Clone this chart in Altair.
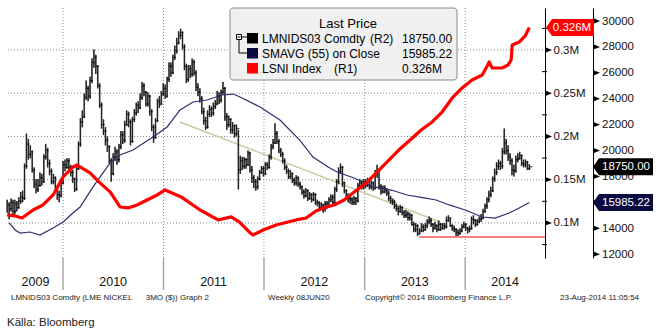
import altair as alt
import pandas as pd

# ---------------- data ----------------
WEEK_START = "2009-06-12"   # weekly bars, LME nickel 3M (R2)
CLOSE = [
    15800, 15500, 16000, 15300, 15900, 15600, 16100, 16400, 16300,
    18800, 20500, 19700, 19900, 18500, 17400, 17000, 17300, 17900, 17600,
    19500, 20000, 19000, 18400, 17600, 17900, 17000, 16600, 16500, 17500,
    18900, 18700, 19200, 18700, 18300, 17800, 17000, 18600, 20500, 22200,
    22600, 24100, 24800, 24200, 25400, 26800, 27200, 26500, 25000, 23500,
    22000, 21500, 20800, 20300, 19200, 18200, 19500, 19900, 19300, 20300,
    21200, 20800, 22000, 22800, 22200, 20700, 22400, 22900, 23500, 23300,
    24100, 25000, 24500, 23600, 24200, 23000, 21800, 21000, 22300, 23800,
    23600, 24400, 24800, 24200, 25500, 26500, 26000, 27200, 27700, 28300,
    28900, 29100, 28000, 26500, 25500, 26300, 25900, 26800, 26000, 24900,
    24500, 24000, 23000, 22300, 21800, 22800, 23200, 22900, 23400, 23600,
    24200, 23900, 24500, 24800, 22600, 22000, 22400, 21600, 21900, 21300,
    21700, 18500, 19200, 18800, 19300, 18900, 19800, 18500, 17900, 17600,
    17200, 17800,
    18300, 18600, 18200, 18900, 18700, 19500, 20300, 20600, 21300, 20700,
    20000, 19700, 19200, 18700, 18400, 18000, 18200, 17700, 17500, 17900,
    17400, 17200, 16800, 16500, 16900, 16300, 16600, 16200, 16600, 16000,
    15900, 15600, 15800, 15500, 15900, 15700, 16200, 16400, 16000, 17000,
    17600, 18400, 18700, 17500, 16900, 16500, 16300,
    16200, 16000, 16300, 16100, 17300, 17500, 17200, 17600, 17300, 17700,
    17200, 17500, 17100, 18200, 18400, 17200, 16800, 17100, 16900, 16700,
    16300, 16100, 16000, 15700, 15500, 15300, 15600, 15200, 15000, 15100,
    14800, 15000, 14300, 13900, 14200, 13600, 13800, 14100, 13900, 14200,
    14500, 14600, 14300, 14000, 14200, 13900, 14300, 14000, 14200, 14100,
    14600, 14800, 14200, 14000, 13900, 13700, 13600, 13800, 14100, 14300,
    14000, 13900, 14000, 14700, 14600, 14300, 14500, 14700, 14800, 15300,
    15700, 16200, 16600, 16900, 17800, 18300, 18800, 19000, 18800, 19900,
    20600,
    20000, 19500, 19200, 18500, 18400, 19300, 19400, 19600, 19000, 18900,
    19100, 18600, 18750,
]
HIGH = [
    16200, 16000, 16300, 16200, 16200, 16100, 16400, 16800, 16900,
    19000, 21300, 20900, 20400, 20000, 18700, 17800, 17800, 18300, 18200,
    19700, 20500, 20200, 19300, 18600, 18200, 18000, 17300, 16900, 17700,
    19200, 19300, 19400, 19400, 18900, 18500, 17900, 18800, 20700, 22500,
    23100, 24400, 25400, 25000, 25700, 27100, 27800, 27400, 26600, 25200,
    23700, 22400, 21800, 21100, 20400, 19400, 19800, 20300, 20100, 20500,
    21500, 21500, 22300, 23100, 23000, 22400, 22600, 23200, 23700, 23800,
    24400, 25300, 25200, 24600, 24500, 24300, 23200, 22000, 22500, 24000,
    24200, 24600, 25200, 25100, 25700, 26800, 26800, 27400, 28100, 28700,
    29200, 29400, 29200, 28200, 26700, 26600, 26600, 27100, 27000, 26200,
    25200, 24800, 24200, 23300, 22600, 23100, 23500, 23400, 23700, 23900,
    24600, 24500, 24700, 25300, 24900, 22900, 22700, 22500, 22200, 22000,
    22000, 21600, 19600, 19500, 19500, 19400, 20000, 19900, 18800, 18100,
    17800, 18000,
    18500, 18800, 18800, 19100, 19100, 19700, 20500, 20900, 22100, 21500,
    20900, 20200, 19900, 19400, 18900, 18600, 18500, 18300, 17900, 18100,
    18000, 17600, 17300, 17000, 17100, 17000, 16800, 16700, 16800, 16700,
    16200, 16100, 16000, 15900, 16100, 16100, 16400, 16600, 16600, 17200,
    17800, 18700, 19000, 18800, 17600, 17000, 16700,
    16500, 16400, 16500, 16400, 17500, 17800, 17700, 17800, 17800, 17900,
    17800, 17700, 17600, 18500, 18900, 18500, 17400, 17300, 17300, 17100,
    16900, 16500, 16300, 16200, 15900, 15700, 15800, 15700, 15400, 15400,
    15300, 15200, 15100, 14500, 14400, 14300, 14000, 14400, 14300, 14400,
    14700, 14900, 14800, 14400, 14500, 14300, 14600, 14400, 14400, 14400,
    14900, 15000, 14800, 14300, 14200, 14000, 13900, 14000, 14300, 14500,
    14400, 14100, 14200, 14900, 15000, 14700, 14700, 14900, 15100, 15500,
    15900, 16400, 16900, 17200, 18000, 18600, 19100, 19300, 19200, 20200,
    21700,
    20900, 20400, 19800, 19400, 18900, 19600, 19800, 19900, 19700, 19300,
    19300, 19200, 18950,
]
LOW = [
    15200, 14700, 15300, 15000, 15100, 15300, 15500, 15900, 16000,
    16200, 18600, 19300, 19400, 18300, 17100, 16700, 16800, 17200, 17300,
    17500, 19300, 18700, 18100, 17400, 17400, 16800, 16200, 16000, 16400,
    17400, 18400, 18600, 18400, 18000, 17500, 16800, 16900, 18500, 20300,
    21800, 22500, 23900, 23800, 24000, 25200, 26400, 25900, 24800, 23300,
    21700, 21200, 20400, 19900, 19000, 17600, 18100, 19200, 18900, 19100,
    20100, 20500, 20600, 21900, 21800, 20400, 20600, 22200, 22700, 22900,
    23200, 23900, 24200, 23400, 23400, 22700, 21500, 20600, 20900, 22200,
    23300, 23500, 24200, 24000, 24100, 25300, 25700, 25900, 27000, 27500,
    28200, 28600, 27800, 26200, 25200, 25300, 25600, 25700, 25800, 24600,
    24200, 23700, 22800, 22000, 21600, 21700, 22600, 22600, 22700, 23200,
    23500, 23600, 23700, 24300, 22300, 21600, 21800, 21300, 21300, 21000,
    21100, 17000, 18200, 18500, 18600, 18600, 18800, 18300, 17500, 17100,
    16900, 17000,
    17700, 18200, 18000, 18100, 18500, 18600, 19300, 20100, 20500, 20500,
    19800, 19500, 19000, 18500, 18200, 17800, 17800, 17500, 17300, 17300,
    17200, 17000, 16600, 16300, 16400, 16100, 16200, 16000, 16100, 15800,
    15700, 15400, 15500, 15200, 15300, 15500, 15600, 16000, 15800, 15900,
    16800, 17400, 18200, 17200, 16700, 16300, 16000,
    15900, 15800, 15800, 15800, 16000, 17100, 17000, 17000, 17100, 17200,
    17000, 17000, 16900, 17000, 17900, 17000, 16600, 16700, 16700, 16500,
    16100, 15900, 15800, 15500, 15300, 15000, 15200, 15000, 14800, 14800,
    14600, 14600, 14200, 13700, 13700, 13400, 13500, 13700, 13700, 13800,
    14000, 14300, 14100, 13700, 13900, 13700, 13800, 13800, 13900, 13900,
    14000, 14500, 14100, 13800, 13700, 13400, 13400, 13500, 13700, 14000,
    13800, 13600, 13700, 13900, 14300, 14100, 14200, 14400, 14500, 14700,
    15200, 15500, 16000, 16400, 16800, 17600, 18100, 18500, 18500, 18600,
    19700,
    19700, 19200, 18900, 18100, 18000, 18300, 19100, 19300, 18800, 18700,
    18700, 18500, 18500,
]

SMA_DATES = [
    "2009-06-19", "2009-07-11", "2009-07-29", "2009-09-03", "2009-10-09", "2009-11-26",
    "2010-01-01", "2010-02-06", "2010-03-04", "2010-04-20", "2010-06-21", "2010-07-27",
    "2010-09-12", "2010-11-24", "2011-01-14", "2011-03-02", "2011-04-18", "2011-06-08",
    "2011-08-02", "2011-09-11", "2011-10-06", "2011-12-18", "2012-02-28", "2012-05-10",
    "2012-06-27", "2012-08-21", "2012-09-23", "2012-11-23", "2013-02-04", "2013-04-07",
    "2013-06-04", "2013-08-05", "2013-09-17", "2013-11-04", "2014-01-01", "2014-03-04",
    "2014-04-20", "2014-06-10", "2014-07-16", "2014-08-22",
]
SMA_VALUES = [
    14410, 13870, 13630, 13710, 13480, 14020,
    14480, 15180, 15640, 17190, 19040, 19660,
    20040, 21050, 21820, 23130, 23750, 23900,
    24290, 24360, 24130, 23360, 22360, 20810,
    19500, 18730, 18340, 17880, 17190, 16950,
    16570, 16340, 16180, 15800, 15410, 14870,
    14790, 15180, 15560, 15985.22,
]

LSNI_DATES = [
    "2009-06-12", "2009-07-11", "2009-08-05", "2009-09-14", "2009-10-20", "2009-11-26",
    "2010-01-01", "2010-02-06", "2010-02-21", "2010-04-09", "2010-05-15", "2010-06-21",
    "2010-07-27", "2010-08-25", "2010-09-27", "2010-11-02", "2010-12-09", "2011-01-07",
    "2011-03-06", "2011-05-14", "2011-07-18", "2011-09-04", "2011-10-03", "2011-11-08",
    "2011-11-22", "2011-12-29", "2012-02-14", "2012-04-27", "2012-06-02", "2012-07-08",
    "2012-08-14", "2012-09-12", "2012-10-18", "2012-11-24", "2013-01-10", "2013-03-02",
    "2013-04-07", "2013-05-13", "2013-06-19", "2013-07-25", "2013-09-03", "2013-10-09",
    "2013-11-15", "2013-12-21", "2014-01-26", "2014-03-04", "2014-03-22", "2014-03-29",
    "2014-04-09", "2014-05-15", "2014-06-06", "2014-06-17", "2014-06-21", "2014-07-16",
    "2014-08-07", "2014-08-22",
]
LSNI_VALUES = [
    109300, 108100, 105800, 115000, 120800, 132400,
    153200, 164700, 167000, 157800, 146300, 135900,
    118500, 117400, 120800, 126600, 132400, 138200,
    130100, 115000, 103500, 107000, 101200, 89600,
    86100, 91900, 97700, 103500, 105800, 113900,
    118500, 120800, 126600, 135900, 147400, 163600,
    175200, 186700, 197100, 207500, 216800, 228300,
    244500, 256100, 265300, 271100, 281500, 286100,
    279200, 279200, 282700, 288400, 305800, 309200,
    316200, 326000,
]

TREND_DATES = ["2011-03-02", "2013-10-02"]
TREND_VALUES = [22200, 14480]
SUPPORT_START = "2013-07-18"
SUPPORT_VALUE = 13330

LAST_PRICE = 18750.00
LAST_SMA = 15985.22
LAST_LSNI = 326000

R1_TICKS = [100000, 150000, 200000, 250000, 300000]
R1_MINOR = [75000, 125000, 175000, 225000, 275000, 325000]
R2_TICKS = [12000, 14000, 16000, 18000, 20000, 22000, 24000, 26000, 28000, 30000]
YEARS = ["2009", "2010", "2011", "2012", "2013", "2014"]
YEAR_STARTS = ["2010-01-01", "2011-01-01", "2012-01-01", "2013-01-01", "2014-01-01"]

X_START, X_END = "2009-06-15", "2014-10-18"
R2_DOMAIN = [11704, 31004]
R1_DOMAIN = [59490, 348565]

# ---------------- layout ----------------
FONT = "Liberation Sans"
W, H = 537, 250


def ms(s):
    return int(pd.Timestamp(s, tz="UTC").value // 10**6)


XS = alt.Scale(type="utc", domain=[ms(X_START), ms(X_END)])
S2 = alt.Scale(domain=R2_DOMAIN, nice=False, zero=False)
S1 = alt.Scale(domain=R1_DOMAIN, nice=False, zero=False)


def X(field):
    return alt.X(field, type="temporal", scale=XS, axis=None)


def Y2s(field):
    return alt.Y(field, type="quantitative", scale=S2, axis=None)


def Y1s(field):
    return alt.Y(field, type="quantitative", scale=S1, axis=None)


ONE = pd.DataFrame({"k": [0]})


def text(s, x, y, size=12, color="#000000", align="left", baseline="alphabetic"):
    return alt.Chart(ONE).mark_text(
        text=s, align=align, baseline=baseline, fontSize=size, font=FONT, color=color
    ).encode(x=alt.value(x), y=alt.value(y))


def prule(x1, x2, y1, y2, color="#000000", width=1.0):
    return alt.Chart(ONE).mark_rule(color=color, strokeWidth=width).encode(
        x=alt.value(x1), x2=alt.value(x2), y=alt.value(y1), y2=alt.value(y2)
    )


def prect(x1, x2, y1, y2, fill, stroke="#000000", sw=0.0, radius=0):
    return alt.Chart(ONE).mark_rect(
        fill=fill, stroke=stroke, strokeWidth=sw, cornerRadius=radius
    ).encode(x=alt.value(x1), x2=alt.value(x2), y=alt.value(y1), y2=alt.value(y2))


weeks = pd.date_range(WEEK_START, periods=len(CLOSE), freq="7D")
assert len(CLOSE) == len(HIGH) == len(LOW), (len(CLOSE), len(HIGH), len(LOW))
bars = pd.DataFrame({
    "date": weeks.strftime("%Y-%m-%d"),
    "close": CLOSE,
    "high": [max(h, c) for h, c in zip(HIGH, CLOSE)],
    "low": [min(l, c) for l, c in zip(LOW, CLOSE)],
})
sma = pd.DataFrame({"date": SMA_DATES, "v": SMA_VALUES})
lsni = pd.DataFrame({"date": LSNI_DATES, "v": LSNI_VALUES})
trend = pd.DataFrame({"date": TREND_DATES, "v": TREND_VALUES})
support = pd.DataFrame({"d0": [SUPPORT_START], "d1": [X_END], "v": [SUPPORT_VALUE]})
r1 = pd.DataFrame({"v": R1_TICKS})
r1m = pd.DataFrame({"v": R1_MINOR})
r2 = pd.DataFrame({"v": R2_TICKS})
ys = pd.DataFrame({"d": YEAR_STARTS})

bounds = [X_START] + YEAR_STARTS + [X_END]
mids = []
for a, b in zip(bounds[:-1], bounds[1:]):
    ta, tb = pd.Timestamp(a), pd.Timestamp(b)
    mids.append((ta + (tb - ta) / 2).strftime("%Y-%m-%d"))
ylab = pd.DataFrame({"mid": mids, "label": YEARS})
quarters = [int(t.value // 10**6) for t in pd.date_range("2009-07-01", "2014-10-01", freq="QS", tz="UTC")]

layers = []
GRID = "#8c8c8c"
# gridlines
layers.append(alt.Chart(r1).mark_rule(color=GRID, strokeDash=[1, 2], strokeWidth=1).encode(
    y=Y1s("v"), x=alt.value(0), x2=alt.value(W)))
layers.append(alt.Chart(ys).mark_rule(color=GRID, strokeDash=[1, 2], strokeWidth=1).encode(
    x=X("d"), y=alt.value(0), y2=alt.value(H)))
# year separators below axis
layers.append(alt.Chart(ys).mark_rule(color="#a8a8a8", strokeWidth=1.5).encode(
    x=X("d"), y=alt.value(H), y2=alt.value(H + 32)))
# year labels
layers.append(alt.Chart(ylab).mark_text(fontSize=12.5, font=FONT, color="#111111", baseline="alphabetic").encode(
    x=X("mid"), y=alt.value(278), text="label:N"))
# trend line & support line
layers.append(alt.Chart(trend).mark_line(color="#c9c9a2", strokeWidth=1.5).encode(x=X("date"), y=Y2s("v")))
layers.append(alt.Chart(support).mark_rule(color="#f05a5a", strokeWidth=1.5).encode(
    x=X("d0"), x2="d1", y=Y2s("v")))
# OHLC bars (with x axis)
layers.append(alt.Chart(bars).mark_rule(color="#555555", strokeWidth=1.6).encode(
    x=alt.X("date", type="temporal", scale=XS,
            axis=alt.Axis(values=quarters, labels=False, ticks=True, tickSize=4, tickColor="#000000",
                          domainColor="#000000", domainWidth=1, grid=False, title="")),
    y=Y2s("low"), y2="high"))
layers.append(alt.Chart(bars).mark_rule(color="#111111", strokeWidth=0.8).encode(
    x=X("date"), y=Y2s("low"), y2="high"))
layers.append(alt.Chart(bars).mark_tick(orient="horizontal", color="#000000", thickness=1.2, size=3,
                                        xOffset=1.5).encode(x=X("date"), y=Y2s("close")))
# SMA and LSNI
layers.append(alt.Chart(sma).mark_line(color="#2e2e70", strokeWidth=1.2).encode(x=X("date"), y=Y2s("v")))
layers.append(alt.Chart(lsni).mark_line(color="#ff0000", strokeWidth=3.2, strokeJoin="round").encode(
    x=X("date"), y=Y1s("v")))

# axes R1 and R2
layers.append(alt.Chart(r1).mark_rule(opacity=0).encode(
    y=alt.Y("v", type="quantitative", scale=S1,
            axis=alt.Axis(orient="right", values=R1_TICKS, labelExpr="format(datum.value/1000000, '.2~f') + 'M'",
                          ticks=False, domainColor="#000000", domainWidth=1, labelPadding=8,
                          labelFont=FONT, labelFontSize=11.5, labelColor="#111111", grid=False,
                          labelOverlap=False, title=""))))
# the 16000 label sits entirely under the SMAVG value tag in the reference
layers.append(alt.Chart(r2).mark_rule(opacity=0).encode(
    y=alt.Y("v", type="quantitative", scale=S2,
            axis=alt.Axis(orient="right", offset=48, values=R2_TICKS,
                          labelExpr="datum.value == 16000 ? '' : format(datum.value, 'd')",
                          ticks=False, domainColor="#000000", domainWidth=1, labelPadding=8.5,
                          labelFont=FONT, labelFontSize=11.5, labelColor="#111111", grid=False,
                          labelOverlap=False, title=""))))
TRI = "M -1 -0.8 L 1 0 L -1 0.8 Z"
layers.append(alt.Chart(r1).mark_point(shape=TRI, size=36, filled=True, color="#000000", opacity=1).encode(
    x=alt.value(W + 4), y=Y1s("v")))
layers.append(alt.Chart(r2).mark_point(shape=TRI, size=36, filled=True, color="#000000", opacity=1).encode(
    x=alt.value(W + 52), y=Y2s("v")))
layers.append(alt.Chart(r1m).mark_rule(color="#000000", strokeWidth=1).encode(
    y=Y1s("v"), x=alt.value(W - 3), x2=alt.value(W + 2)))

# legend box
layers.append(prect(222, 449, 0, 72, "#f0f0f0", "#8a8a8a", 1, 3))
layers.append(text("Last Price", 340, 20, size=13, align="center"))
for (label, val, col, y0) in [
    ("LMNIDS03 Comdty", "18750.00", "#000000", 25),
    ("SMAVG (55) on Close", "15985.22", "#0a0a40", 40),
    ("LSNI Index", "0.326M", "#ff0000", 55),
]:
    layers.append(prect(239, 250, y0, y0 + 10.5, col))
    layers.append(text(label, 254, y0 + 10))
    layers.append(text(val, 394, y0 + 10))
layers.append(text("(R2)", 362, 35))
layers.append(text("(R1)", 326, 65))
# tree icon
layers.append(prect(228.5, 233.5, 26.5, 31.5, "#ffffff", "#000000", 1))
layers.append(prule(229.5, 232.5, 29, 29))
layers.append(prule(233.5, 239, 29, 29))
layers.append(prule(231, 231, 31.5, 45))
layers.append(prule(231, 239, 45, 45))

# value tags on the axes
TAG1 = "M -1 0 L -0.75 -0.354 L 1 -0.354 L 1 0.354 L -0.75 0.354 Z"
TAG2 = "M -1 0 L -0.8 -0.283 L 1 -0.283 L 1 0.283 L -0.8 0.283 Z"
tag_r1 = pd.DataFrame({"v": [LAST_LSNI], "t": ["0.326M"]})
tag_r2 = pd.DataFrame({"v": [LAST_PRICE, LAST_SMA], "t": ["18750.00", "15985.22"],
                       "c": ["#000000", "#0a0a40"]})
layers.append(alt.Chart(tag_r1).mark_point(shape=TAG1, size=2304, filled=True, color="#ff0000",
                                           opacity=1, strokeWidth=0).encode(x=alt.value(562), y=Y1s("v")))
layers.append(alt.Chart(tag_r1).mark_text(color="#ffffff", fontSize=11.5, font=FONT, align="center",
                                          baseline="middle").encode(x=alt.value(564), y=Y1s("v"), text="t:N"))
layers.append(alt.Chart(tag_r2).mark_point(shape=TAG2, size=3600, filled=True, opacity=1, strokeWidth=0).encode(
    x=alt.value(615), y=Y2s("v"), fill=alt.Fill("c:N", scale=None)))
layers.append(alt.Chart(tag_r2).mark_text(color="#ffffff", fontSize=11.5, font=FONT, align="center",
                                          baseline="middle").encode(x=alt.value(618), y=Y2s("v"), text="t:N"))

# footer
FOOT = "#222222"
layers.append(text("LMNIDS03 Comdty (LME NICKEL", 3, 292, size=8, color=FOOT))
layers.append(text("3MO ($)) Graph 2", 137.7, 292, size=8, color=FOOT))
layers.append(text("Weekly 08JUN20", 260, 292, size=8, color=FOOT))
layers.append(text("Copyright\u00a9 2014 Bloomberg Finance L.P.", 357, 292, size=8, color=FOOT))
layers.append(text("23-Aug-2014 11:05:54", 552, 292, size=8, color=FOOT))
layers.append(text("K\u00e4lla: Bloomberg", -1, 318, size=11.5, color=FOOT))

chart = alt.layer(*layers).resolve_scale(y="independent").properties(
    width=W, height=H,
    autosize=alt.AutoSizeParams(type="none"),
    padding={"left": 8, "top": 8, "right": 113, "bottom": 71},
    background="white",
).configure_view(strokeWidth=0)

chart.save("out.html", embed_options={"renderer": "svg", "actions": False})
